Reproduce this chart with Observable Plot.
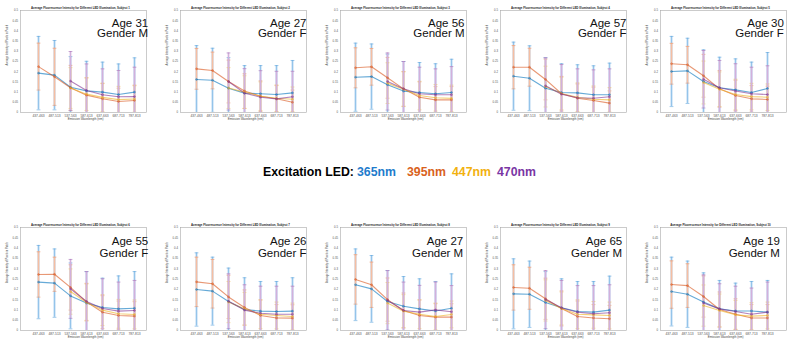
<!DOCTYPE html>
<html><head><meta charset="utf-8">
<script src="https://cdn.jsdelivr.net/npm/d3@7"></script>
<script src="https://cdn.jsdelivr.net/npm/@observablehq/plot@0.6"></script>
<style>
body{margin:0;background:#fff;}
#wrap{position:relative;width:800px;height:344px;overflow:hidden;font-family:"Liberation Sans",Arial,sans-serif;background:#fff;}
.panel{position:absolute;}
.panel svg{overflow:visible;}
#legend{position:absolute;left:0;top:155px;}
</style></head><body><div id="wrap"></div>
<script>
// ---------------- data ----------------
const categories = ["437-463","487-513","537-563","587-613","637-663","687-713","787-813"];
const subjects = [1,2,3,4,5,6,7,8,9,10];
const ages = [31,27,56,57,30,55,26,27,65,19];
const genders = ["M","F","M","F","F","F","F","M","M","M"];
const leds = ["365nm","395nm","447nm","470nm"];
const yTicks = [0,0.05,0.1,0.15,0.2,0.25,0.3,0.35,0.4,0.45,0.5];

const blueMean = [
[0.193,0.183,0.124,0.106,0.100,0.088,0.100],
[0.162,0.158,0.119,0.095,0.092,0.088,0.096],
[0.173,0.176,0.136,0.105,0.098,0.092,0.098],
[0.178,0.168,0.119,0.098,0.096,0.087,0.087],
[0.201,0.204,0.152,0.121,0.111,0.098,0.118],
[0.235,0.230,0.168,0.133,0.112,0.105,0.108],
[0.199,0.191,0.141,0.102,0.094,0.092,0.094],
[0.222,0.202,0.141,0.118,0.105,0.095,0.108],
[0.178,0.176,0.136,0.110,0.092,0.089,0.099],
[0.189,0.176,0.138,0.105,0.095,0.095,0.089]];
const blueErr = [
[0.180,0.170,0.150,0.145,0.147,0.150,0.168],
[0.166,0.157,0.150,0.135,0.138,0.142,0.159],
[0.167,0.160,0.150,0.145,0.147,0.147,0.163],
[0.167,0.159,0.150,0.141,0.138,0.142,0.155],
[0.172,0.160,0.155,0.150,0.152,0.149,0.176],
[0.178,0.166,0.160,0.153,0.142,0.160,0.178],
[0.178,0.165,0.162,0.154,0.144,0.146,0.162],
[0.174,0.162,0.150,0.144,0.146,0.143,0.167],
[0.170,0.161,0.150,0.141,0.146,0.149,0.165],
[0.167,0.161,0.142,0.138,0.135,0.143,0.154]];
const orangeMean = [
[0.225,0.175,0.121,0.085,0.067,0.054,0.059],
[0.214,0.206,0.152,0.105,0.080,0.067,0.050],
[0.219,0.224,0.170,0.116,0.075,0.062,0.062],
[0.222,0.222,0.162,0.092,0.070,0.059,0.046],
[0.239,0.234,0.180,0.116,0.083,0.067,0.064],
[0.272,0.273,0.209,0.139,0.089,0.073,0.070],
[0.236,0.227,0.163,0.112,0.073,0.061,0.060],
[0.248,0.222,0.150,0.097,0.073,0.065,0.065],
[0.209,0.205,0.154,0.107,0.068,0.061,0.057],
[0.223,0.218,0.165,0.102,0.079,0.061,0.061]];
const orangeErr = [
[0.115,0.140,0.110,0.085,0.075,0.065,0.075],
[0.100,0.090,0.105,0.085,0.075,0.065,0.060],
[0.098,0.090,0.100,0.085,0.075,0.065,0.065],
[0.106,0.093,0.100,0.085,0.070,0.065,0.060],
[0.100,0.090,0.105,0.090,0.075,0.065,0.065],
[0.110,0.083,0.110,0.090,0.080,0.070,0.070],
[0.120,0.118,0.105,0.085,0.075,0.065,0.065],
[0.120,0.110,0.105,0.085,0.075,0.065,0.065],
[0.110,0.102,0.100,0.085,0.075,0.065,0.065],
[0.115,0.106,0.100,0.085,0.075,0.065,0.065]];
const yellowMean = [
[null,null,0.120,0.090,0.074,0.063,0.066],
[null,null,0.120,0.100,0.080,0.070,0.065],
[null,null,0.144,0.114,0.083,0.072,0.069],
[null,null,0.127,0.093,0.075,0.065,0.062],
[null,null,0.147,0.114,0.088,0.078,0.075],
[null,null,0.189,0.136,0.099,0.081,0.078],
[null,null,0.138,0.105,0.079,0.073,0.068],
[null,null,0.133,0.094,0.079,0.068,0.078],
[null,null,0.146,0.107,0.079,0.076,0.073],
[null,null,0.121,0.097,0.076,0.070,0.073]];
const yellowErr = [
[null,null,0.100,0.080,0.070,0.065,0.065],
[null,null,0.100,0.080,0.070,0.065,0.060],
[null,null,0.100,0.085,0.070,0.065,0.065],
[null,null,0.100,0.080,0.070,0.065,0.060],
[null,null,0.105,0.085,0.075,0.065,0.065],
[null,null,0.110,0.090,0.075,0.070,0.070],
[null,null,0.100,0.080,0.070,0.065,0.065],
[null,null,0.100,0.080,0.070,0.065,0.065],
[null,null,0.100,0.080,0.070,0.065,0.065],
[null,null,0.100,0.080,0.070,0.065,0.065]];
const purpleMean = [
[null,null,0.154,0.108,0.087,0.077,0.078],
[null,null,0.152,0.095,0.075,0.067,0.077],
[null,null,0.152,0.116,0.092,0.087,0.087],
[null,null,0.131,0.090,0.072,0.070,0.077],
[null,null,0.163,0.121,0.105,0.092,0.088],
[null,null,0.202,0.141,0.107,0.094,0.097],
[null,null,0.142,0.099,0.084,0.079,0.079],
[null,null,0.147,0.097,0.089,0.100,0.091],
[null,null,0.150,0.110,0.089,0.081,0.086],
[null,null,0.134,0.105,0.092,0.079,0.089]];
const purpleErr = [
[null,null,0.145,0.130,0.127,0.129,0.144],
[null,null,0.140,0.120,0.130,0.135,0.125],
[null,null,0.140,0.134,0.130,0.127,0.138],
[null,null,0.137,0.145,0.142,0.139,0.137],
[null,null,0.141,0.134,0.134,0.130,0.141],
[null,null,0.143,0.145,0.144,0.141,0.146],
[null,null,0.133,0.123,0.131,0.136,0.136],
[null,null,0.144,0.138,0.130,0.135,0.127],
[null,null,0.141,0.133,0.129,0.137,0.136],
[null,null,0.136,0.122,0.123,0.127,0.146]];

// ---------------- styles / layout ----------------
const colors = ["#0072BD","#D95319","#EDB120","#7E2F8E"];
const barColors = ["#94c4ea","#f5bea2","#f7da96","#d2b0dc"];
const capColors = ["#5fa6dd","#ec9468","#f0c257","#a874b8"];
const legendColors = ["#1f7ccc","#d9621c","#f2b10f","#7a36a4"];
const means = [blueMean, orangeMean, yellowMean, purpleMean];
const errs = [blueErr, orangeErr, yellowErr, purpleErr];
const layout = {
  colLeft: [0,160,320,480,640],
  rows: [{top:0,height:125,mt:10,mb:13,l1:8,l2:18.7},{top:215,height:129,mt:12,mb:14,l1:9.7,l2:21.5}],
  insetL: [17.7,15.7,14.3,12.3,10.2],
  insetR: [11,13,14.7,16.7,18.6],
  textDx: [[1.7,0,-2,0,-2.7],[1.7,0,-3.3,-4.3,-6.7]]
};
const capSymbol = {draw(ctx, size){ const w = Math.sqrt(size)/1.2; ctx.moveTo(-w,0); ctx.lineTo(w,0); }};
const FONT = "Liberation Sans, Arial, sans-serif";

const wrap = document.getElementById("wrap");

for (let k = 0; k < subjects.length; k++) {
  const col = k % 5, row = Math.floor(k / 5);
  const R = layout.rows[row];
  const rows = [];
  for (let s = 0; s < 4; s++) for (let i = 0; i < categories.length; i++) {
    const m = means[s][k][i]; if (m == null) continue;
    const e = errs[s][k][i];
    rows.push({s, led: leds[s], cat: categories[i], mean: m, lo: m - e, hi: m + e});
  }
  const marks = [Plot.frame({stroke:"#a8a8a8", strokeWidth:0.6})];
  for (let s = 0; s < 4; s++) {
    const d = rows.filter(r => r.s === s);
    marks.push(
      Plot.ruleX(d, {x:"cat", y1:"lo", y2:"hi", stroke:barColors[s], strokeWidth:1.7, clip:true}),
      Plot.dot(d, {x:"cat", y:"hi", symbol:capSymbol, r:1.3, fill:"none", stroke:capColors[s], strokeWidth:0.6, clip:true}),
      Plot.dot(d, {x:"cat", y:"lo", symbol:capSymbol, r:1.3, fill:"none", stroke:capColors[s], strokeWidth:0.6, clip:true})
    );
  }
  for (let s = 0; s < 4; s++) {
    const d = rows.filter(r => r.s === s);
    marks.push(
      Plot.line(d, {x:"cat", y:"mean", stroke:colors[s], strokeOpacity:0.6, strokeWidth:1.1}),
      Plot.dot(d, {x:"cat", y:"mean", r:0.9, fill:"none", stroke:colors[s], strokeOpacity:0.85, strokeWidth:0.6})
    );
  }
  marks.push(
    Plot.axisX({tickSize:0, tickPadding:2.2, fontSize:3.3, label:null, color:"#555"}),
    Plot.axisY({ticks:yTicks, tickSize:0, tickPadding:2.5, fontSize:2.8, label:null, color:"#555", tickFormat:d => String(d)}),
    Plot.text([`Average Fluorescence Intensity for Different LED Illumination, Subject ${subjects[k]}`],
      {frameAnchor:"top", dx:-3, dy:-4, fontSize:2.9, fontWeight:"bold", fill:"#222"}),
    Plot.text(["Emission Wavelength (nm)"], {frameAnchor:"bottom", dx:2, dy:7, fontSize:3, fill:"#444"}),
    Plot.text(["Average Intensity of Pixels in Patch"], {frameAnchor:"left", rotate:-90, dx:-13.5, dy:4, fontSize:2.6, fill:"#444"}),
    Plot.text([`Age ${ages[k]}`], {frameAnchor:"top-right", textAnchor:"end", dx:layout.textDx[row][col], dy:R.l1, fontSize:11.5, fill:"#111"}),
    Plot.text([`Gender ${genders[k]}`], {frameAnchor:"top-right", textAnchor:"end", dx:layout.textDx[row][col], dy:R.l2, fontSize:11.5, fill:"#111"})
  );
  const svg = Plot.plot({
    width:160, height:R.height,
    marginTop:R.mt, marginBottom:R.mb, marginLeft:20, marginRight:14,
    x:{type:"point", domain:categories, padding:0, insetLeft:layout.insetL[col], insetRight:layout.insetR[col]},
    y:{domain:[0,0.5]},
    style:{fontFamily:FONT, background:"transparent", overflow:"visible"},
    marks
  });
  const div = document.createElement("div");
  div.className = "panel";
  div.style.left = layout.colLeft[col] + "px";
  div.style.top = R.top + "px";
  div.appendChild(svg);
  wrap.appendChild(div);
}

// legend
const ns = "http://www.w3.org/2000/svg";
const lg = document.createElementNS(ns, "svg");
lg.setAttribute("id","legend"); lg.setAttribute("width","800"); lg.setAttribute("height","30");
const legendParts = [{t:"Excitation LED:", x:263, c:"#000"}].concat(leds.map((l,i)=>({t:l, x:[357,407,452,497][i], c:legendColors[i]})));
for (const p of legendParts) {
  const t = document.createElementNS(ns, "text");
  t.setAttribute("x", p.x); t.setAttribute("y", 20.7);
  t.setAttribute("font-family", FONT); t.setAttribute("font-weight","bold"); t.setAttribute("font-size","12.3");
  t.setAttribute("fill", p.c);
  t.textContent = p.t;
  lg.appendChild(t);
}
wrap.appendChild(lg);
</script>
</body></html>
